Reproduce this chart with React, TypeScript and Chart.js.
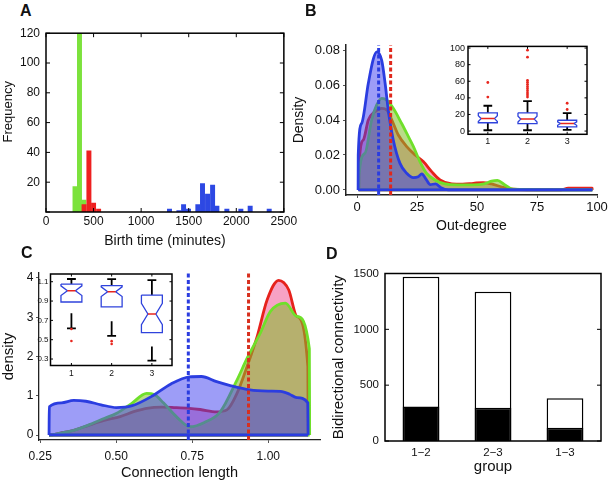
import React, { useEffect, useRef } from 'react';
import { Chart, registerables } from 'chart.js';

Chart.register(...registerables);

const FONT = '"Liberation Sans", Arial, Helvetica, sans-serif';
const TXT = '#111';

// ---------------- Panel A : birth time histogram ----------------
const aXTicks = [0, 500, 1000, 1500, 2000, 2500];
const aYTicks = [0, 20, 40, 60, 80, 100, 120];
const aGreenBins = [305, 352, 398];
const aGreenCounts = [17, 120, 8];
const aRedBins = [400, 451, 500, 553];
const aRedCounts = [5, 41, 6, 2];
const aBlueBins = [1298, 1397, 1446, 1498, 1596, 1645, 1698, 1751, 1796, 1901, 2048, 2146, 2346];
const aBlueCounts = [2, 1, 5, 2, 5, 19, 12, 18, 4, 2, 2, 4, 2];

// ---------------- Panel B : out-degree densities ----------------
const bXTicks = [0, 25, 50, 75, 100];
const bYTicks = [0, 0.02, 0.04, 0.06, 0.08];
const bBlueX = [0.5, 1.9, 4.7, 6.8, 8.3, 10.3, 11.7, 13, 15.1, 17.9, 20.7, 23.5, 25.5, 27, 28.8, 30.5, 32.8, 35, 38, 98];
const bBlueY = [0.02, 0.038, 0.061, 0.075, 0.079, 0.074, 0.061, 0.0457, 0.0286, 0.0152, 0.0095, 0.007, 0.0075, 0.0092, 0.006, 0.003, 0.0035, 0.0012, 0, 0];
const bGreenX = [0.8, 3.3, 6.1, 8.2, 10.3, 12.4, 15.1, 18.6, 21.4, 23.5, 26.2, 29, 32.5, 36.7, 42, 48, 53, 56, 58.5, 61.5, 65, 98];
const bGreenY = [0.008, 0.021, 0.04, 0.0486, 0.0524, 0.0514, 0.0467, 0.038, 0.0305, 0.0248, 0.0162, 0.0095, 0.0057, 0.0034, 0.0029, 0.0029, 0.0035, 0.005, 0.0055, 0.003, 0.0004, 0];
const bRedX = [0.8, 2.6, 4.7, 7.5, 10.3, 12.4, 14.5, 17.2, 20.7, 24.2, 27.6, 31.1, 34.6, 39.5, 44, 48.5, 52.6, 56, 61, 65, 85, 88, 98];
const bRedY = [0.0133, 0.0286, 0.04, 0.0448, 0.0467, 0.0457, 0.04, 0.0314, 0.0248, 0.02, 0.0162, 0.0105, 0.0057, 0.0034, 0.0033, 0.0038, 0.0042, 0.0034, 0.0015, 0.0004, 0, 0.001, 0.001];
const bBlueMedian = 9;
const bRedMedian = 14;

// Panel B inset : out-degree boxplots
const bBoxTicks = [1, 2, 3];
const bBoxYTicks = [0, 20, 40, 60, 80, 100];
const bBoxQ1 = [10, 9, 5];
const bBoxMedian = [15, 14.5, 9];
const bBoxQ3 = [22, 22, 13];
const bBoxNotch = [3.5, 3.5, 2];
const bBoxUpperWhisker = [30.5, 36, 21.5];
const bBoxLowerWhisker = [1, 1, 1.5];
const bBoxOutliers1 = [41, 58.5];
const bBoxOutliers2 = [41, 43.5, 46, 48.5, 51, 53.5, 56, 58.5, 61, 89, 97.5];
const bBoxOutliers3 = [26, 33.5];

// ---------------- Panel C : connection length densities ----------------
const cXTicks = [0.25, 0.5, 0.75, 1.0];
const cYTicks = [0, 1, 2, 3, 4];
const cBlueX = [0.28, 0.32, 0.36, 0.4, 0.45, 0.5, 0.55, 0.62, 0.68, 0.74, 0.78, 0.83, 0.875, 0.94, 1.0, 1.04, 1.07, 1.094, 1.13];
const cBlueY = [0.72, 0.82, 0.88, 0.86, 0.77, 0.7, 0.74, 1.0, 1.3, 1.48, 1.49, 1.36, 1.26, 1.15, 1.12, 1.11, 1.04, 0.95, 0.82];
const cGreenX = [0.28, 0.316, 0.36, 0.414, 0.46, 0.5, 0.55, 0.6, 0.625, 0.655, 0.7, 0.743, 0.79, 0.842, 0.897, 0.93, 0.974, 1.007, 1.056, 1.094, 1.135];
const cGreenY = [0, 0.05, 0.12, 0.27, 0.42, 0.55, 0.8, 1.06, 1.03, 0.82, 0.45, 0.21, 0.32, 0.59, 1.4, 1.95, 2.6, 3.15, 3.36, 3.02, 2.2];
const cRedX = [0.28, 0.316, 0.36, 0.414, 0.46, 0.513, 0.56, 0.6, 0.65, 0.69, 0.74, 0.776, 0.83, 0.864, 0.897, 0.93, 0.963, 0.996, 1.034, 1.067, 1.094, 1.13];
const cRedY = [0, 0.05, 0.12, 0.26, 0.37, 0.47, 0.6, 0.68, 0.71, 0.7, 0.68, 0.65, 0.59, 0.64, 1.06, 1.74, 2.5, 3.44, 3.94, 3.7, 3.02, 1.74];
const cBlueMedian = 0.737;
const cRedMedian = 0.935;

// Panel C inset : connection length boxplots
const cBoxTicks = [1, 2, 3];
const cBoxYTicks = [0.3, 0.5, 0.7, 0.9, 1.1];
const cBoxQ1 = [0.89, 0.84, 0.573];
const cBoxMedian = [1.007, 0.997, 0.766];
const cBoxQ3 = [1.076, 1.06, 0.962];
const cBoxNotch = [0.05, 0.05, 0.11];
const cBoxUpperWhisker = [1.128, 1.127, 1.117];
const cBoxLowerStart = [0.773, 0.69, 0.43];
const cBoxLowerWhisker = [0.618, 0.54, 0.283];
const cBoxOutliers1 = [0.61, 0.487];
const cBoxOutliers2 = [0.485, 0.455];
const cBoxOutliers3: number[] = [];

// ---------------- Panel D : bidirectional connectivity ----------------
const dGroups = ['1\u22122', '2\u22123', '1\u22123'];
const dTotal = [1470, 1337, 382];
const dReciprocal = [310, 298, 119];
const dYTicks = [0, 500, 1000, 1500];

// ---------------- colours ----------------
const GREEN_BAR = '#7ce23c';
const RED_BAR = '#ee2020';
const BLUE_BAR = '#2d48e3';
const BLUE_LINE = '#2b3de0';
const GREEN_LINE = '#6fe02a';
const RED_LINE = '#e6221c';
const BLUE_FILL = 'rgba(60,60,240,0.5)';
const GREEN_FILL = 'rgba(130,190,40,0.55)';
const RED_FILL = 'rgba(240,70,140,0.5)';

// ---------------- plugin: matlab-like frame with inward ticks ----------------
const framePlugin = {
  id: 'frame',
  defaults: { enabled: false },
  beforeDatasetsDraw(chart: any, _a: any, o: any) {
    if (!o || !o.enabled || !o.bg) return;
    const a = chart.chartArea;
    const ctx = chart.ctx;
    ctx.save();
    ctx.fillStyle = o.bg;
    ctx.fillRect(a.left, a.top, a.right - a.left, a.bottom - a.top);
    ctx.restore();
  },
  afterDatasetsDraw(chart: any, _a: any, o: any) {
    if (!o || !o.enabled) return;
    const a = chart.chartArea;
    const ctx = chart.ctx;
    const len = o.tick ?? 4;
    ctx.save();
    ctx.strokeStyle = '#000';
    ctx.lineWidth = o.tickWidth ?? 1;
    ctx.beginPath();
    const xs = chart.scales.x;
    const ys = chart.scales.y;
    if (o.xTicks !== false) {
      xs.ticks.forEach((_t: any, i: number) => {
        const p = xs.getPixelForTick(i);
        ctx.moveTo(p, a.bottom);
        ctx.lineTo(p, a.bottom - len);
        ctx.moveTo(p, a.top);
        ctx.lineTo(p, a.top + len);
      });
    }
    ys.ticks.forEach((_t: any, i: number) => {
      const p = ys.getPixelForTick(i);
      ctx.moveTo(a.left, p);
      ctx.lineTo(a.left + len, p);
      ctx.moveTo(a.right, p);
      ctx.lineTo(a.right - len, p);
    });
    ctx.stroke();
    ctx.lineWidth = o.width ?? 1.5;
    ctx.strokeRect(a.left, a.top, a.right - a.left, a.bottom - a.top);
    ctx.restore();
  },
};
Chart.register(framePlugin as any);

// ---------------- helpers ----------------
const font = (size: number, weight: any = 'normal') => ({ family: FONT, size, weight });
const setTicks = (vals: number[]) => (s: any) => {
  s.ticks = vals.map((v) => ({ value: v }));
};
const fixW = (w: number) => (s: any) => {
  s.width = w;
};
const fixH = (h: number) => (s: any) => {
  s.height = h;
};

function densityPoints(xs: number[], ys: number[], eps: number) {
  const pts = xs.map((x, i) => ({ x, y: ys[i] }));
  return [{ x: xs[0] - eps, y: 0 }, ...pts, { x: xs[xs.length - 1] + eps, y: 0 }];
}

function densityDatasets(xs: number[], ys: number[], line: string, fillColor: string, eps: number) {
  return [
    {
      data: [
        { x: xs[0] - eps, y: 0 },
        { x: xs[xs.length - 1] + eps, y: 0 },
      ],
      borderColor: line,
      borderWidth: 2.8,
      fill: false,
      pointRadius: 0,
    },
    {
      data: densityPoints(xs, ys, eps),
      borderColor: line,
      backgroundColor: fillColor,
      borderWidth: 2.8,
      fill: 'origin',
      pointRadius: 0,
      cubicInterpolationMode: 'monotone',
    },
  ];
}

function dashedLine(x: number, y0: number, y1: number, color: string) {
  return {
    data: [
      { x, y: y0 },
      { x, y: y1 },
    ],
    borderColor: color,
    borderWidth: 3,
    borderDash: [4, 2.5],
    fill: false,
    pointRadius: 0,
  };
}

function boxDatasets(o: {
  centers: number[];
  q1: number[];
  med: number[];
  q3: number[];
  notch: number[];
  hi: number[];
  loStart: number[];
  lo: number[];
  outliers: number[][];
  hw: number;
  nw: number;
  cw: number;
  outRadius: number;
}) {
  const ds: any[] = [];
  o.centers.forEach((c, i) => {
    const m = o.med[i];
    const q1 = o.q1[i];
    const q3 = o.q3[i];
    const n = o.notch[i];
    ds.push({
      data: o.outliers[i].map((y) => ({ x: c, y })),
      showLine: false,
      pointRadius: o.outRadius,
      pointBackgroundColor: '#e8261e',
      pointBorderWidth: 0,
    });
    ds.push({
      data: [
        { x: c - o.nw, y: m },
        { x: c + o.nw, y: m },
      ],
      borderColor: '#e8261e',
      borderWidth: 1.5,
      pointRadius: 0,
    });
    ds.push({
      data: [
        { x: c - o.hw, y: q3 },
        { x: c + o.hw, y: q3 },
        { x: c + o.hw, y: m + n },
        { x: c + o.nw, y: m },
        { x: c + o.hw, y: m - n },
        { x: c + o.hw, y: q1 },
        { x: c - o.hw, y: q1 },
        { x: c - o.hw, y: m - n },
        { x: c - o.nw, y: m },
        { x: c - o.hw, y: m + n },
        { x: c - o.hw, y: q3 },
      ],
      borderColor: '#2f43dc',
      borderWidth: 1.3,
      pointRadius: 0,
      tension: 0,
    });
    ds.push({
      data: [
        { x: c, y: q3 },
        { x: c, y: o.hi[i] },
        { x: c, y: null },
        { x: c - o.cw, y: o.hi[i] },
        { x: c + o.cw, y: o.hi[i] },
        { x: c, y: null },
        { x: c, y: o.loStart[i] },
        { x: c, y: o.lo[i] },
        { x: c, y: null },
        { x: c - o.cw, y: o.lo[i] },
        { x: c + o.cw, y: o.lo[i] },
      ],
      borderColor: '#000',
      borderWidth: 1.8,
      pointRadius: 0,
      spanGaps: false,
    });
  });
  return ds;
}

const base = {
  animation: false as const,
  responsive: false,
  events: [] as any[],
};

// ---------------- configs ----------------
function cfgA(): any {
  const bar = (bins: number[], counts: number[], color: string) => ({
    data: bins.map((x, i) => ({ x, y: counts[i] })),
    backgroundColor: color,
    borderWidth: 0,
    grouped: false,
    barThickness: 4.3,
  });
  return {
    type: 'bar',
    data: {
      datasets: [
        bar(aRedBins, aRedCounts, RED_BAR),
        bar(aGreenBins, aGreenCounts, GREEN_BAR),
        bar(aBlueBins, aBlueCounts, BLUE_BAR),
      ],
    },
    options: {
      ...base,
      layout: { autoPadding: false, padding: { left: 0, top: 13, right: 16, bottom: 0 } },
      plugins: { legend: { display: false }, tooltip: { enabled: false }, frame: { enabled: true, tick: 4, width: 1.5 } },
      scales: {
        x: {
          type: 'linear',
          min: 0,
          max: 2500,
          offset: false,
          afterBuildTicks: setTicks(aXTicks),
          afterFit: fixH(40),
          grid: { display: false, drawTicks: false, offset: false },
          border: { display: false },
          ticks: { font: font(12), color: TXT, padding: 2.8, maxRotation: 0, autoSkip: false, callback: (v: any) => String(v) },
          title: { display: true, text: 'Birth time (minutes)', font: font(14), color: TXT, padding: { top: 0, bottom: 2.6 } },
        },
        y: {
          type: 'linear',
          min: 0,
          max: 120,
          afterBuildTicks: setTicks(aYTicks),
          afterFit: fixW(46),
          grid: { display: false, drawTicks: false },
          border: { display: false },
          ticks: { font: font(12), color: TXT, padding: 6, callback: (v: any) => (v === 0 ? '' : String(v)) },
          title: { display: true, text: '      Frequency', font: font(13), color: TXT, padding: { top: 0.2, bottom: 0 } },
        },
      },
    },
  };
}

function cfgB(): any {
  const yMin = -0.0029;
  const yMax = 0.0829;
  const eps = 0.05;
  return {
    type: 'line',
    data: {
      datasets: [
        dashedLine(bRedMedian, yMin, yMax, '#e0281c'),
        dashedLine(bBlueMedian, yMin, yMax, BLUE_LINE),
        ...densityDatasets(bBlueX, bBlueY, BLUE_LINE, BLUE_FILL, eps),
        ...densityDatasets(bGreenX, bGreenY, GREEN_LINE, GREEN_FILL, eps),
        ...densityDatasets(bRedX, bRedY, RED_LINE, RED_FILL, eps),
      ],
    },
    options: {
      ...base,
      layout: { autoPadding: false, padding: { left: 0, top: 25, right: 13, bottom: 0 } },
      plugins: { legend: { display: false }, tooltip: { enabled: false } },
      scales: {
        x: {
          type: 'linear',
          min: -4.6,
          max: 100,
          afterBuildTicks: setTicks(bXTicks),
          afterFit: fixH(57),
          grid: { drawOnChartArea: false, drawTicks: true, tickLength: 3, color: '#555' },
          border: { display: true, color: '#222', width: 1.5 },
          ticks: { font: font(13), color: TXT, padding: 1.2, maxRotation: 0, autoSkip: false, callback: (v: any) => String(v) },
          title: { display: true, text: 'Out-degree', font: font(14), color: TXT, padding: { top: 0, bottom: 17.6 } },
        },
        y: {
          type: 'linear',
          min: yMin,
          max: yMax,
          afterBuildTicks: setTicks(bYTicks),
          afterFit: fixW(56),
          grid: { drawOnChartArea: false, drawTicks: true, tickLength: 3, color: '#555' },
          border: { display: true, color: '#222', width: 1.5 },
          ticks: { font: font(13), color: TXT, padding: 3, callback: (v: any) => Number(v).toFixed(2) },
          title: { display: true, text: 'Density', font: font(14), color: TXT, padding: { top: 0.4, bottom: 0 } },
        },
      },
    },
  };
}

function cfgBInset(): any {
  return {
    type: 'line',
    data: {
      datasets: boxDatasets({
        centers: bBoxTicks,
        q1: bBoxQ1,
        med: bBoxMedian,
        q3: bBoxQ3,
        notch: bBoxNotch,
        hi: bBoxUpperWhisker,
        loStart: bBoxQ1,
        lo: bBoxLowerWhisker,
        outliers: [bBoxOutliers1, bBoxOutliers2, bBoxOutliers3],
        hw: 0.24,
        nw: 0.17,
        cw: 0.11,
        outRadius: 1.4,
      }),
    },
    options: {
      ...base,
      layout: { autoPadding: false, padding: { left: 0, top: 7, right: 5, bottom: 0 } },
      plugins: { legend: { display: false }, tooltip: { enabled: false }, frame: { enabled: true, tick: 2.5, width: 1.5, bg: '#fff' } },
      scales: {
        x: {
          type: 'linear',
          min: 0.5,
          max: 3.5,
          afterBuildTicks: setTicks(bBoxTicks),
          afterFit: fixH(15.7),
          grid: { display: false, drawTicks: false },
          border: { display: false },
          ticks: { font: font(9), color: TXT, padding: 2, maxRotation: 0, autoSkip: false, callback: (v: any) => String(v) },
        },
        y: {
          type: 'linear',
          min: -3.9,
          max: 102,
          afterBuildTicks: setTicks(bBoxYTicks),
          afterFit: fixW(28),
          grid: { display: false, drawTicks: false },
          border: { display: false },
          ticks: { font: font(9), color: TXT, padding: 3, callback: (v: any) => String(v) },
        },
      },
    },
  };
}

function cfgC(): any {
  const yMin = -0.127;
  const yMax = 4.127;
  const eps = 0.001;
  return {
    type: 'line',
    data: {
      datasets: [
        dashedLine(cRedMedian, yMin, yMax, '#d8301e'),
        dashedLine(cBlueMedian, yMin, yMax, BLUE_LINE),
        ...densityDatasets(cBlueX, cBlueY, BLUE_LINE, BLUE_FILL, eps),
        ...densityDatasets(cGreenX, cGreenY, GREEN_LINE, GREEN_FILL, eps),
        ...densityDatasets(cRedX, cRedY, RED_LINE, RED_FILL, eps),
      ],
    },
    options: {
      ...base,
      layout: { autoPadding: false, padding: { left: 0, top: 18, right: 10, bottom: 0 } },
      plugins: { legend: { display: false }, tooltip: { enabled: false } },
      scales: {
        x: {
          type: 'linear',
          min: 0.246,
          max: 1.17,
          afterBuildTicks: setTicks(cXTicks),
          afterFit: fixH(45),
          grid: { drawOnChartArea: false, drawTicks: true, tickLength: 3, color: '#555' },
          border: { display: true, color: '#222', width: 1.3 },
          ticks: { font: font(12), color: TXT, padding: 6.5, maxRotation: 0, autoSkip: false, callback: (v: any) => Number(v).toFixed(2) },
          title: { display: true, text: 'Connection length', font: font(14.5), color: TXT, padding: { top: 0, bottom: 3 } },
        },
        y: {
          type: 'linear',
          min: yMin,
          max: yMax,
          afterBuildTicks: setTicks(cYTicks),
          afterFit: fixW(39),
          grid: { drawOnChartArea: false, drawTicks: true, tickLength: 3, color: '#555' },
          border: { display: true, color: '#222', width: 1.3 },
          ticks: { font: font(12), color: TXT, padding: 2.7, callback: (v: any) => String(v) },
          title: { display: true, text: 'density', font: font(15), color: TXT, padding: { top: 0, bottom: 0 } },
        },
      },
    },
  };
}

function cfgCInset(): any {
  return {
    type: 'line',
    data: {
      datasets: boxDatasets({
        centers: cBoxTicks,
        q1: cBoxQ1,
        med: cBoxMedian,
        q3: cBoxQ3,
        notch: cBoxNotch,
        hi: cBoxUpperWhisker,
        loStart: cBoxLowerStart,
        lo: cBoxLowerWhisker,
        outliers: [cBoxOutliers1, cBoxOutliers2, cBoxOutliers3],
        hw: 0.26,
        nw: 0.1,
        cw: 0.11,
        outRadius: 1.3,
      }),
    },
    options: {
      ...base,
      layout: { autoPadding: false, padding: { left: 0, top: 8, right: 6, bottom: 0 } },
      plugins: { legend: { display: false }, tooltip: { enabled: false }, frame: { enabled: true, tick: 2.5, width: 1.5, bg: '#fff' } },
      scales: {
        x: {
          type: 'linear',
          min: 0.48,
          max: 3.5,
          afterBuildTicks: setTicks(cBoxTicks),
          afterFit: fixH(16.5),
          grid: { display: false, drawTicks: false },
          border: { display: false },
          ticks: { font: font(8.5), color: TXT, padding: 2.7, maxRotation: 0, autoSkip: false, callback: (v: any) => String(v) },
        },
        y: {
          type: 'linear',
          min: 0.233,
          max: 1.18,
          afterBuildTicks: setTicks(cBoxYTicks),
          afterFit: fixW(20.5),
          grid: { display: false, drawTicks: false },
          border: { display: false },
          ticks: { font: font(8), color: TXT, padding: 2, callback: (v: any) => Number(v).toFixed(1) },
        },
      },
    },
  };
}

function cfgD(): any {
  return {
    type: 'bar',
    data: {
      labels: dGroups,
      datasets: [
        {
          data: dReciprocal,
          backgroundColor: '#000',
          borderColor: '#000',
          borderWidth: 1.5,
          grouped: false,
          barPercentage: 0.51,
          categoryPercentage: 1,
        },
        {
          data: dTotal,
          backgroundColor: '#fff',
          borderColor: '#000',
          borderWidth: 1.5,
          grouped: false,
          barPercentage: 0.51,
          categoryPercentage: 1,
        },
      ],
    },
    options: {
      ...base,
      layout: { autoPadding: false, padding: { left: 0, top: 18.5, right: 9, bottom: 0 } },
      plugins: { legend: { display: false }, tooltip: { enabled: false }, frame: { enabled: true, tick: 4, width: 1.5, xTicks: false } },
      scales: {
        x: {
          type: 'category',
          offset: true,
          afterFit: fixH(44),
          grid: { display: false, drawTicks: false },
          border: { display: false },
          ticks: { font: font(11.5), color: TXT, padding: 4.8, maxRotation: 0, autoSkip: false },
          title: { display: true, text: 'group', font: font(15), color: TXT, padding: { top: 0, bottom: 8.7 } },
        },
        y: {
          type: 'linear',
          min: 0,
          max: 1500,
          afterBuildTicks: setTicks(dYTicks),
          afterFit: fixW(55),
          grid: { display: false, drawTicks: false },
          border: { display: false },
          ticks: { font: font(11.5), color: TXT, padding: 6, callback: (v: any) => String(v) },
          title: { display: true, text: 'Bidirectional connectivity', font: font(15), color: TXT, padding: { top: 0, bottom: 0 } },
        },
      },
    },
  };
}

const letter = (left: number, top: number): React.CSSProperties => ({
  position: 'absolute',
  left,
  top,
  fontFamily: FONT,
  fontWeight: 'bold',
  fontSize: 16,
  lineHeight: '16px',
  color: '#111',
});

const cv = (left: number, top: number): React.CSSProperties => ({ position: 'absolute', left, top });

export default function App() {
  const refA = useRef<HTMLCanvasElement>(null);
  const refB = useRef<HTMLCanvasElement>(null);
  const refBI = useRef<HTMLCanvasElement>(null);
  const refC = useRef<HTMLCanvasElement>(null);
  const refCI = useRef<HTMLCanvasElement>(null);
  const refD = useRef<HTMLCanvasElement>(null);

  useEffect(() => {
    Chart.defaults.font.family = FONT;
    Chart.defaults.color = TXT;
    const charts = [
      new Chart(refA.current as HTMLCanvasElement, cfgA()),
      new Chart(refB.current as HTMLCanvasElement, cfgB()),
      new Chart(refBI.current as HTMLCanvasElement, cfgBInset()),
      new Chart(refC.current as HTMLCanvasElement, cfgC()),
      new Chart(refCI.current as HTMLCanvasElement, cfgCInset()),
      new Chart(refD.current as HTMLCanvasElement, cfgD()),
    ];
    return () => charts.forEach((c) => c.destroy());
  }, []);

  return (
    <div
      style={{
        position: 'fixed',
        left: 0,
        top: 0,
        width: 610,
        height: 485,
        background: '#fff',
        overflow: 'hidden',
      }}
    >
      <canvas ref={refA} width={300} height={232} style={cv(0, 20)} />
      <canvas ref={refB} width={320} height={232} style={cv(290, 20)} />
      <canvas ref={refBI} width={152} height={112} style={cv(440, 38)} />
      <canvas ref={refC} width={330} height={230} style={cv(0, 255)} />
      <canvas ref={refCI} width={148} height={116} style={cv(30, 266)} />
      <canvas ref={refD} width={280} height={230} style={cv(330, 255)} />
      <div style={letter(20, 3)}>A</div>
      <div style={letter(305, 3)}>B</div>
      <div style={letter(21, 245)}>C</div>
      <div style={letter(326, 246)}>D</div>
    </div>
  );
}
